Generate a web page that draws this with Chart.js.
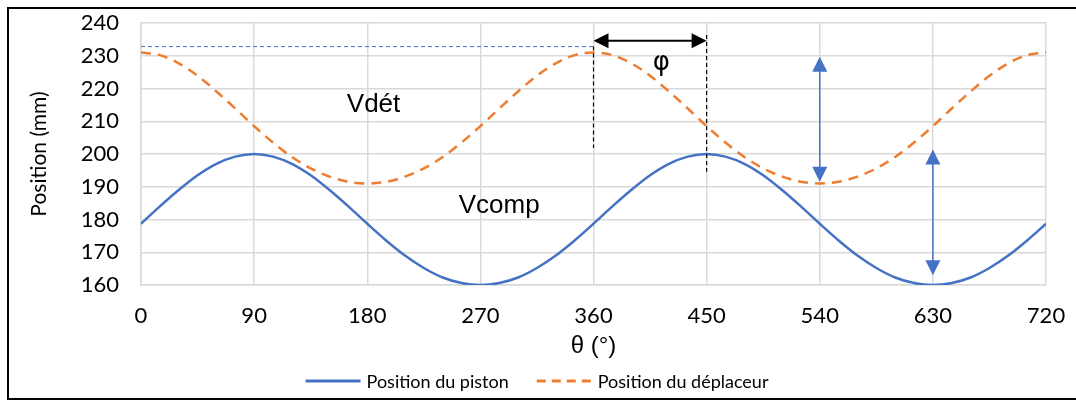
<!DOCTYPE html>
<html>
<head>
<meta charset="utf-8">
<script src="https://cdn.jsdelivr.net/npm/chart.js@4.4.1/dist/chart.umd.min.js"></script>
<style>
  html, body { margin: 0; padding: 0; background: #fff; }
  #wrap { width: 1076px; height: 401px; position: relative; }
</style>
</head>
<body>
<div id="wrap"><canvas id="canvas-chart" width="1076" height="401"></canvas></div>
<script>
// angle (degrees), every 15°
const theta = [
  0, 15, 30, 45, 60, 75, 90, 105, 120, 135, 150, 165, 180,
  195, 210, 225, 240, 255, 270, 285, 300, 315, 330, 345, 360,
  375, 390, 405, 420, 435, 450, 465, 480, 495, 510, 525, 540,
  555, 570, 585, 600, 615, 630, 645, 660, 675, 690, 705, 720
];

// Position du piston (mm)
const piston = [
  178.7, 184.0, 189.0, 193.5, 197.0, 199.2, 200.0, 199.2, 197.0, 193.5, 189.0, 184.0, 178.7,
  173.6, 169.0, 165.2, 162.3, 160.6, 160.0, 160.6, 162.3, 165.2, 169.0, 173.6, 178.7,
  184.0, 189.0, 193.5, 197.0, 199.2, 200.0, 199.2, 197.0, 193.5, 189.0, 184.0, 178.7,
  173.6, 169.0, 165.2, 162.3, 160.6, 160.0, 160.6, 162.3, 165.2, 169.0, 173.6, 178.7
];

// Position du déplaceur (mm)
const deplaceur = [
  231.0, 230.2, 227.7, 223.9, 219.1, 213.9, 208.5, 203.5, 199.1, 195.6, 193.1, 191.5, 191.0,
  191.5, 193.1, 195.6, 199.1, 203.5, 208.5, 213.9, 219.1, 223.9, 227.7, 230.2, 231.0,
  230.2, 227.7, 223.9, 219.1, 213.9, 208.5, 203.5, 199.1, 195.6, 193.1, 191.5, 191.0,
  191.5, 193.1, 195.6, 199.1, 203.5, 208.5, 213.9, 219.1, 223.9, 227.7, 230.2, 231.0
];

const seriesNames = ['Position du piston', 'Position du déplaceur'];

const BLUE = '#4472C4';
const ORANGE = '#ED7D31';

function arrowHead(ctx, x, y, dx, dy, len, half) {
  // tip at (x,y), pointing along (dx,dy)
  const bx = x - dx * len, by = y - dy * len;
  ctx.beginPath();
  ctx.moveTo(x, y);
  ctx.lineTo(bx - dy * half, by + dx * half);
  ctx.lineTo(bx + dy * half, by - dx * half);
  ctx.closePath();
  ctx.fill();
}

const frame = {
  id: 'frame',
  beforeDraw(chart) {
    const ctx = chart.ctx;
    ctx.save();
    ctx.fillStyle = '#fff';
    ctx.fillRect(0, 0, chart.width, chart.height);
    ctx.strokeStyle = '#000';
    ctx.lineWidth = 2;
    ctx.strokeRect(8, 8, 1080, 391);
    ctx.restore();
  },
  // legend drawn by hand so the spacing matches the reference
  afterDraw(chart) {
    const ctx = chart.ctx;
    ctx.save();
    ctx.font = '18px Lato';
    ctx.textBaseline = 'middle';
    ctx.fillStyle = '#000';
    const sets = chart.data.datasets;
    const line = 55, gapText = 6, gapItem = 28;
    const widths = sets.map(d => ctx.measureText(d.label).width);
    let total = widths.reduce((a, w) => a + w + line + gapText, 0) + gapItem * (sets.length - 1);
    let x = 537 - total / 2;
    const y = 381;
    sets.forEach((d, i) => {
      ctx.strokeStyle = d.borderColor;
      ctx.lineWidth = 3;
      ctx.setLineDash(d.borderDash ? [9, 6] : []);
      ctx.beginPath();
      ctx.moveTo(x, y);
      ctx.lineTo(x + line, y);
      ctx.stroke();
      ctx.setLineDash([]);
      ctx.fillText(d.label, x + line + gapText, y + 1);
      x += line + gapText + widths[i] + gapItem;
    });
    ctx.restore();
  }
};

const notes = {
  id: 'notes',
  afterDatasetsDraw(chart) {
    const ctx = chart.ctx;
    const xs = chart.scales.x, ys = chart.scales.y;
    const X = v => xs.getPixelForValue(v);
    const Y = v => ys.getPixelForValue(v);
    ctx.save();

    // thin blue dashed reference at the displacer top
    ctx.strokeStyle = BLUE;
    ctx.lineWidth = 1;
    ctx.setLineDash([4, 3]);
    ctx.beginPath();
    ctx.moveTo(X(0), Y(232.8));
    ctx.lineTo(X(360), Y(232.8));
    ctx.stroke();

    // black dashed verticals
    ctx.strokeStyle = '#000';
    ctx.lineWidth = 1.2;
    ctx.setLineDash([4, 3]);
    ctx.beginPath();
    ctx.moveTo(X(360), Y(232.8));
    ctx.lineTo(X(360), Y(201.8));
    ctx.moveTo(X(450), Y(236.3));
    ctx.lineTo(X(450), Y(194.6));
    ctx.stroke();
    ctx.setLineDash([]);

    // phase arrow
    const ay = Y(234.6);
    ctx.lineWidth = 2;
    ctx.beginPath();
    ctx.moveTo(X(360) + 10, ay);
    ctx.lineTo(X(450) - 10, ay);
    ctx.stroke();
    ctx.fillStyle = '#000';
    arrowHead(ctx, X(360), ay, -1, 0, 15, 7.5);
    arrowHead(ctx, X(450), ay, 1, 0, 15, 7.5);

    // blue vertical double arrows
    ctx.strokeStyle = BLUE;
    ctx.fillStyle = BLUE;
    ctx.lineWidth = 1.5;
    [[540, 229.7, 191.5], [630, 201.4, 163.0]].forEach(([t, top, bot]) => {
      const x = X(t), y1 = Y(top), y2 = Y(bot);
      ctx.beginPath();
      ctx.moveTo(x, y1 + 10);
      ctx.lineTo(x, y2 - 10);
      ctx.stroke();
      arrowHead(ctx, x, y1, 0, -1, 15, 7.5);
      arrowHead(ctx, x, y2, 0, 1, 15, 7.5);
    });

    // labels
    ctx.fillStyle = '#000';
    ctx.textAlign = 'center';
    ctx.textBaseline = 'middle';
    ctx.font = '26px "Liberation Sans", Arial, sans-serif';
    ctx.fillText('Vdét', X(185), Y(215.0));
    ctx.fillText('Vcomp', X(285), Y(184.2));
    ctx.font = '26px "DejaVu Sans", sans-serif';
    ctx.fillText('φ', X(414), Y(227.7));
    ctx.restore();
  }
};

Chart.defaults.font.family = 'Lato';
Chart.defaults.color = '#000';

const ctx = document.getElementById('canvas-chart').getContext('2d');
const chart = new Chart(ctx, {
  type: 'line',
  data: {
    datasets: [{
      label: seriesNames[0],
      data: theta.map((t, i) => ({ x: t, y: piston[i] })),
      borderColor: BLUE,
      backgroundColor: BLUE,
      borderWidth: 2.5,
      pointRadius: 0,
      tension: 0.4,
      cubicInterpolationMode: 'monotone'
    }, {
      label: seriesNames[1],
      data: theta.map((t, i) => ({ x: t, y: deplaceur[i] })),
      borderColor: ORANGE,
      backgroundColor: ORANGE,
      borderWidth: 2.5,
      borderDash: [10, 7],
      pointRadius: 0,
      tension: 0.4,
      cubicInterpolationMode: 'monotone'
    }]
  },
  options: {
    responsive: false,
    animation: false,
    layout: { padding: { left: 8, right: 30, top: 23, bottom: 39 } },
    scales: {
      x: {
        type: 'linear',
        min: 0, max: 720,
        ticks: { stepSize: 90, padding: 18, font: { size: 22 } },
        grid: { color: '#d9d9d9', lineWidth: 1.5, drawTicks: false },
        border: { color: '#d9d9d9', width: 1.5 },
        title: {
          display: true, text: 'θ (°)', padding: { top: 0, bottom: 1 },
          font: { family: '"Liberation Sans", Arial, sans-serif', size: 24 }
        },
        afterFit(scale) {
          scale.height = 77;
          scale.paddingLeft = 0;
          scale.paddingRight = 0;
        }
      },
      y: {
        min: 160, max: 240,
        ticks: { stepSize: 10, padding: 22, font: { size: 22 } },
        grid: { color: '#d9d9d9', lineWidth: 1.5, drawTicks: false },
        border: { color: '#d9d9d9', width: 1.5 },
        title: {
          display: true, text: 'Position (mm)', padding: { top: 19, bottom: 0 },
          font: { size: 21 }
        },
        afterFit(scale) {
          scale.width = 133;
          scale.paddingTop = 0;
          scale.paddingBottom = 0;
        }
      }
    },
    plugins: {
      legend: { display: false },
      tooltip: { enabled: false }
    }
  },
  plugins: [frame, notes]
});
</script>
</body>
</html>
